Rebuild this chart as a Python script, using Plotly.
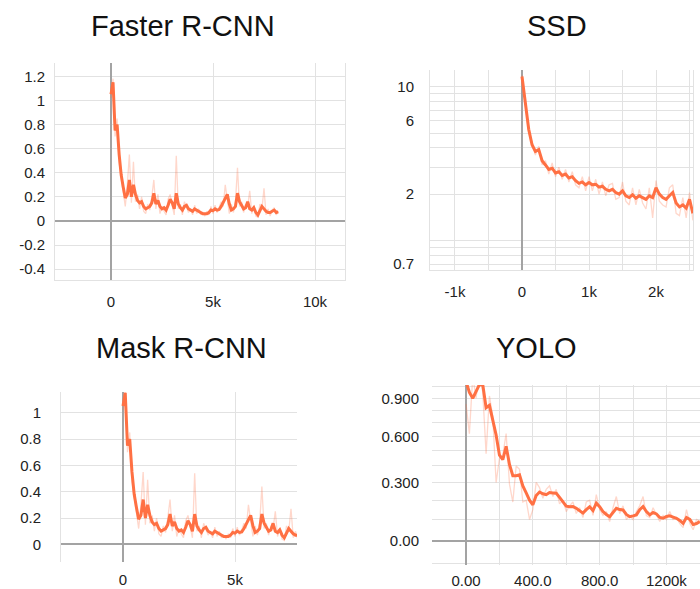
import numpy as np
import plotly.graph_objects as go

# ---------------- data ----------------
# Faster R-CNN (also shown as Mask R-CNN) loss curve, steps every 100
frcnn_steps = list(range(0, 8201, 100))
frcnn_smooth = [1.05, 1.15, 0.75, 0.80, 0.55, 0.38, 0.28, 0.19, 0.22, 0.34,
                0.20, 0.30, 0.22, 0.17, 0.15, 0.16, 0.12, 0.10, 0.11, 0.12,
                0.15, 0.23, 0.14, 0.17, 0.12, 0.10, 0.11, 0.09, 0.13, 0.18,
                0.15, 0.10, 0.23, 0.14, 0.11, 0.09, 0.12, 0.13, 0.10, 0.09,
                0.08, 0.10, 0.09, 0.08, 0.07, 0.06, 0.06, 0.06, 0.07, 0.09,
                0.085, 0.10, 0.09, 0.095, 0.12, 0.15, 0.18, 0.22, 0.14, 0.09,
                0.10, 0.12, 0.23, 0.16, 0.13, 0.10, 0.11, 0.16, 0.10, 0.09,
                0.11, 0.07, 0.05, 0.09, 0.12, 0.10, 0.08, 0.07, 0.07, 0.08,
                0.09, 0.07, 0.075]
frcnn_raw = [1.02, 1.18, 0.70, 0.85, 0.48, 0.36, 0.20, 0.12, 0.30, 0.55,
             0.15, 0.49, 0.16, 0.22, 0.10, 0.20, 0.08, 0.06, 0.14, 0.09,
             0.20, 0.34, 0.10, 0.22, 0.06, 0.12, 0.08, 0.05, 0.18, 0.22,
             0.13, 0.05, 0.54, 0.10, 0.14, 0.05, 0.16, 0.12, 0.07, 0.10,
             0.05, 0.13, 0.06, 0.10, 0.05, 0.07, 0.04, 0.08, 0.05, 0.12,
             0.06, 0.13, 0.07, 0.11, 0.16, 0.12, 0.30, 0.18, 0.06, 0.14,
             0.07, 0.16, 0.44, 0.12, 0.16, 0.07, 0.14, 0.12, 0.25, 0.06,
             0.12, 0.04, 0.03, 0.14, 0.10, 0.27, 0.05, 0.10, 0.04, 0.09,
             0.11, 0.05, 0.08]

mask_steps = frcnn_steps
mask_smooth = frcnn_smooth
mask_raw = frcnn_raw

# SSD loss curve, steps every 50 (log axis)
ssd_steps = list(range(0, 2551, 50))
ssd_smooth = [11.7, 8.0, 5.3, 4.2, 3.8, 3.9, 3.3, 3.1, 2.9, 2.95,
              2.75, 2.8, 2.65, 2.7, 2.55, 2.6, 2.45, 2.35, 2.4, 2.3,
              2.38, 2.3, 2.32, 2.22, 2.25, 2.15, 2.1, 2.15, 2.05, 2.0,
              2.1, 1.95, 1.9, 1.98, 1.88, 1.95, 1.9, 1.85, 1.95, 1.9,
              2.2, 2.0, 1.9, 1.85, 1.95, 2.05, 1.75, 1.65, 1.7, 1.62,
              1.85, 1.5]
ssd_raw = [12.0, 7.5, 5.0, 4.4, 3.6, 4.1, 3.1, 3.3, 2.7, 3.2,
           2.6, 3.0, 2.5, 2.9, 2.4, 2.8, 2.3, 2.2, 2.6, 2.1,
           2.6, 2.1, 2.5, 2.0, 2.4, 1.95, 2.3, 2.35, 1.85, 1.9,
           2.4, 1.8, 1.7, 2.2, 1.7, 2.15, 1.75, 1.6, 2.2, 1.4,
           2.45, 1.8, 1.7, 1.65, 2.2, 2.3, 1.5, 1.45, 1.9, 1.4,
           2.05, 1.35]

# YOLO loss curve, steps every 20 (log(1+y) axis)
yolo_steps = list(range(0, 1401, 20))
yolo_smooth = [1.05, 0.95, 0.90, 0.96, 1.02, 1.02, 0.82, 0.84, 0.72, 0.61,
               0.47, 0.44, 0.53, 0.41, 0.34, 0.34, 0.345, 0.28, 0.24, 0.20,
               0.175, 0.225, 0.245, 0.235, 0.23, 0.242, 0.24, 0.238, 0.215, 0.19,
               0.168, 0.165, 0.166, 0.157, 0.145, 0.132, 0.15, 0.165, 0.145, 0.184,
               0.165, 0.14, 0.125, 0.114, 0.135, 0.157, 0.15, 0.148, 0.125, 0.114,
               0.118, 0.123, 0.15, 0.166, 0.14, 0.123, 0.135, 0.128, 0.11, 0.106,
               0.115, 0.118, 0.112, 0.106, 0.095, 0.081, 0.11, 0.10, 0.075, 0.08,
               0.09]
yolo_raw = [0.85, 0.62, 1.10, 0.90, 1.15, 0.95, 0.48, 0.92, 0.75, 0.30,
            0.45, 0.47, 0.62, 0.29, 0.19, 0.40, 0.38, 0.19, 0.20, 0.10,
            0.15, 0.30, 0.27, 0.21, 0.26, 0.28, 0.22, 0.26, 0.18, 0.20,
            0.14, 0.17, 0.19, 0.13, 0.16, 0.11, 0.19, 0.20, 0.12, 0.23,
            0.15, 0.12, 0.14, 0.09, 0.16, 0.22, 0.13, 0.17, 0.10, 0.12,
            0.10, 0.14, 0.17, 0.22, 0.12, 0.11, 0.16, 0.12, 0.09, 0.12,
            0.10, 0.14, 0.10, 0.11, 0.08, 0.06, 0.15, 0.08, 0.05, 0.10,
            0.09]

titles = ["Faster R-CNN", "SSD", "Mask R-CNN", "YOLO"]

frcnn_yticks = [-0.4, -0.2, 0, 0.2, 0.4, 0.6, 0.8, 1, 1.2]
frcnn_ylabels = ["-0.4", "-0.2", "0", "0.2", "0.4", "0.6", "0.8", "1", "1.2"]
frcnn_xticks = [0, 5000, 10000]
frcnn_xlabels = ["0", "5k", "10k"]

mask_yticks = [0, 0.2, 0.4, 0.6, 0.8, 1]
mask_ylabels = ["0", "0.2", "0.4", "0.6", "0.8", "1"]
mask_xticks = [0, 5000]
mask_xlabels = ["0", "5k"]

ssd_yticks = [0.7, 2, 6, 10]
ssd_ylabels = ["0.7", "2", "6", "10"]
ssd_yminor = [0.7, 0.8, 0.9, 1, 2, 3, 4, 5, 6, 7, 8, 9, 10]
ssd_xticks = [-1000, 0, 1000, 2000]
ssd_xlabels = ["-1k", "0", "1k", "2k"]
ssd_xminor = [-1000, -500, 0, 500, 1000, 1500, 2000, 2500]

yolo_yticks = [0, 0.3, 0.6, 0.9]
yolo_ylabels = ["0.00", "0.300", "0.600", "0.900"]
yolo_yminor = [-0.1, 0.1, 0.2, 0.3, 0.4, 0.5, 0.6, 0.7, 0.8, 0.9, 1.0]
yolo_xticks = [0, 400, 800, 1200]
yolo_xlabels = ["0.00", "400.0", "800.0", "1200k"]
yolo_xminor = [-200, 0, 200, 400, 600, 800, 1000, 1200, 1400]


def log1p10(v):
    return list(np.log10(1 + np.asarray(v, dtype=float)))


# ---------------- figure ----------------
W, H = 700, 589
LINE = "#ff7043"
RAW = "rgba(255,112,67,0.28)"
GRID = "#e2e2e2"
ZERO = "#a3a3a3"
FONT = "Liberation Sans, Arial, sans-serif"
TICKFONT = dict(family=FONT, size=15, color="#222222")


def dx(a, b):
    return [a / W, b / W]


def dy(top, bottom):
    return [1 - bottom / H, 1 - top / H]


fig = go.Figure()


def add_pair(steps, raw, smooth, xa, ya):
    fig.add_trace(go.Scatter(x=steps, y=raw, mode="lines", xaxis=xa, yaxis=ya,
                             line=dict(color=RAW, width=1.3), hoverinfo="skip",
                             showlegend=False))
    fig.add_trace(go.Scatter(x=steps, y=smooth, mode="lines", xaxis=xa, yaxis=ya,
                             line=dict(color=LINE, width=3), showlegend=False))


add_pair(frcnn_steps, frcnn_raw, frcnn_smooth, "x", "y")
add_pair(ssd_steps, ssd_raw, ssd_smooth, "x2", "y2")
add_pair(mask_steps, mask_raw, mask_smooth, "x3", "y3")
add_pair(yolo_steps, log1p10(yolo_raw), log1p10(yolo_smooth), "x4", "y4")

base_x = dict(showgrid=True, gridcolor=GRID, gridwidth=1, ticks="",
              tickfont=TICKFONT, zeroline=True, zerolinecolor=ZERO,
              zerolinewidth=2, tickmode="array", fixedrange=True,
              automargin=False)
base_y = dict(showgrid=True, gridcolor=GRID, gridwidth=1, ticks="",
              tickfont=TICKFONT, zeroline=True, zerolinecolor=ZERO,
              zerolinewidth=2, tickmode="array", fixedrange=True,
              automargin=False)

fig.update_layout(
    template="none",
    width=W, height=H, autosize=False,
    margin=dict(l=0, r=0, t=0, b=0, pad=0),
    paper_bgcolor="white", plot_bgcolor="white",
    showlegend=False,
    # Faster R-CNN
    xaxis=dict(base_x, domain=dx(55, 345), anchor="y", range=[-2745, 11470],
               tickvals=frcnn_xticks, ticktext=frcnn_xlabels,
               showline=True, linecolor=GRID, ticklabelstandoff=8),
    yaxis=dict(base_y, domain=dy(63, 280), anchor="x", range=[-0.49, 1.31],
               tickvals=frcnn_yticks, ticktext=frcnn_ylabels,
               showline=True, mirror=True, linecolor=GRID, ticklabelstandoff=6),
    # SSD
    xaxis2=dict(base_x, domain=dx(430, 693), anchor="y2", range=[-1373, 2552],
                tickvals=ssd_xticks, ticktext=ssd_xlabels,
                minor=dict(tickmode="array", tickvals=ssd_xminor, showgrid=True,
                           gridcolor=GRID, ticks=""),
                showline=True, linecolor=GRID, ticklabelstandoff=8),
    yaxis2=dict(base_y, domain=dy(70, 270), anchor="x2", type="log",
                range=[np.log10(0.64), np.log10(12.9)],
                tickvals=ssd_yticks, ticktext=ssd_ylabels,
                minor=dict(tickmode="array", tickvals=ssd_yminor, showgrid=True,
                           gridcolor=GRID, ticks=""),
                showline=True, mirror=True, linecolor=GRID, ticklabelstandoff=12),
    # Mask R-CNN
    xaxis3=dict(base_x, domain=dx(61, 297), anchor="y3", range=[-2768, 7768],
                tickvals=mask_xticks, ticktext=mask_xlabels, ticklabelstandoff=7),
    yaxis3=dict(base_y, domain=dy(392, 562), anchor="x3", range=[-0.134, 1.157],
                tickvals=mask_yticks, ticktext=mask_ylabels,
                showline=True, linecolor=GRID, ticklabelstandoff=16),
    # YOLO
    xaxis4=dict(base_x, domain=dx(432, 700), anchor="y4", range=[-204, 1401],
                tickvals=yolo_xticks, ticktext=yolo_xlabels,
                minor=dict(tickmode="array", tickvals=yolo_xminor, showgrid=True,
                           gridcolor=GRID, ticks=""),
                ticklabelstandoff=5),
    yaxis4=dict(base_y, domain=dy(385, 565), anchor="x4",
                range=[np.log10(0.9) - 0.002, np.log10(2.017)],
                tickvals=log1p10(yolo_yticks), ticktext=yolo_ylabels,
                minor=dict(tickmode="array", tickvals=log1p10(yolo_yminor),
                           showgrid=True, gridcolor=GRID, ticks=""),
                ticklabelstandoff=12),
)

title_pos = [(183, 26), (557, 26), (181, 348), (536, 348)]
for t, (px, py) in zip(titles, title_pos):
    fig.add_annotation(text=t, x=px / W, y=1 - py / H, xref="paper", yref="paper",
                       showarrow=False, xanchor="center", yanchor="middle",
                       font=dict(family=FONT, size=29, color="#111111"))

# remove the browser's default page margin so the figure fills the window
fig.write_html("out.html",
               config={"displayModeBar": False, "staticPlot": True},
               post_script="document.body.style.margin='0px';"
                           "document.body.style.overflow='hidden';")
